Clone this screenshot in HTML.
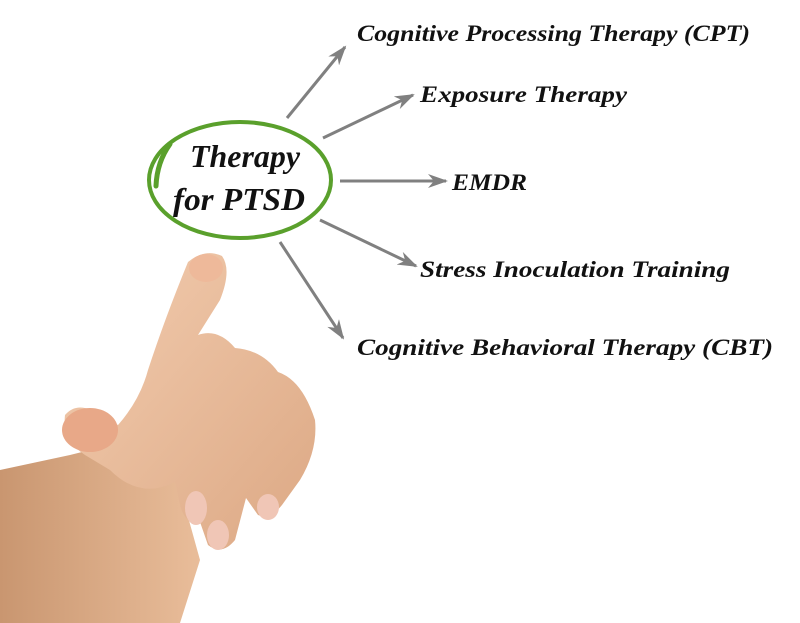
<!DOCTYPE html>
<html><head><meta charset="utf-8"><style>
html,body{margin:0;padding:0;background:#fff;width:800px;height:623px;overflow:hidden}
.l{font-family:"Liberation Serif",serif;font-style:italic;font-weight:bold;fill:#111}
.c{font-family:"Liberation Serif",serif;font-style:italic;font-weight:bold;fill:#111}
</style></head><body>
<svg width="800" height="623" viewBox="0 0 800 623" xmlns="http://www.w3.org/2000/svg">
<defs>
<marker id="ah" markerWidth="20" markerHeight="14" refX="18" refY="7" orient="auto" markerUnits="userSpaceOnUse">
<path d="M0,0 L20,7 L0,14 L6,7 Z" fill="#808080"/>
</marker>
<linearGradient id="skin" x1="0" y1="0" x2="1" y2="1">
<stop offset="0" stop-color="#f3cdb0"/><stop offset="1" stop-color="#dca884"/>
</linearGradient>
<linearGradient id="arm" x1="0" y1="0" x2="1" y2="0">
<stop offset="0" stop-color="#c99670"/><stop offset="1" stop-color="#e9bd9a"/>
</linearGradient>
</defs>
<g stroke="#808080" stroke-width="3" marker-end="url(#ah)" fill="none">
<line x1="287" y1="118" x2="345" y2="47"/>
<line x1="323" y1="138" x2="413" y2="95"/>
<line x1="340" y1="181" x2="446" y2="181"/>
<line x1="320" y1="220" x2="416" y2="266"/>
<line x1="280" y1="242" x2="343" y2="338"/>
</g>
<ellipse cx="240" cy="180" rx="91" ry="58" fill="none" stroke="#5aa02c" stroke-width="4"/>
<path d="M156,186 Q157,162 170,144" fill="none" stroke="#5aa02c" stroke-width="5" stroke-linecap="round"/>
<text class="c" x="190" y="167" font-size="32" textLength="110" lengthAdjust="spacingAndGlyphs">Therapy</text>
<text class="c" x="173" y="210" font-size="32" textLength="132" lengthAdjust="spacingAndGlyphs">for PTSD</text>
<text class="l" x="357" y="41" font-size="23" textLength="393" lengthAdjust="spacingAndGlyphs">Cognitive Processing Therapy (CPT)</text>
<text class="l" x="420" y="102" font-size="23" textLength="207" lengthAdjust="spacingAndGlyphs">Exposure Therapy</text>
<text class="l" x="452" y="190" font-size="23" textLength="75" lengthAdjust="spacingAndGlyphs">EMDR</text>
<text class="l" x="420" y="277" font-size="23" textLength="310" lengthAdjust="spacingAndGlyphs">Stress Inoculation Training</text>
<text class="l" x="357" y="355" font-size="23" textLength="416" lengthAdjust="spacingAndGlyphs">Cognitive Behavioral Therapy (CBT)</text>
<path d="M0,470 L70,455 L110,445 L175,470 L200,560 L180,623 L0,623 Z" fill="url(#arm)"/>
<path d="M188,262 Q205,248 222,256 Q232,270 220,300 L198,335 Q218,328 235,348 Q262,350 278,372 Q302,380 315,420 Q318,450 300,480 L282,505 Q270,520 258,515 L246,498 L235,540 Q222,556 208,545 L200,522 Q185,525 180,505 L175,482 Q140,500 110,470 L85,455 Q62,440 65,415 Q78,400 100,415 L118,425 Q140,400 148,370 Q165,318 188,262 Z" fill="url(#skin)"/>
<ellipse cx="90" cy="430" rx="28" ry="22" fill="#e8a888"/>
<ellipse cx="206" cy="268" rx="17" ry="14" fill="#eeb99a"/>
<ellipse cx="196" cy="508" rx="11" ry="17" fill="#f0c6b6"/>
<ellipse cx="218" cy="535" rx="11" ry="15" fill="#f0c6b6"/>
<ellipse cx="268" cy="507" rx="11" ry="13" fill="#f0c6b6"/>
</svg>
</body></html>
